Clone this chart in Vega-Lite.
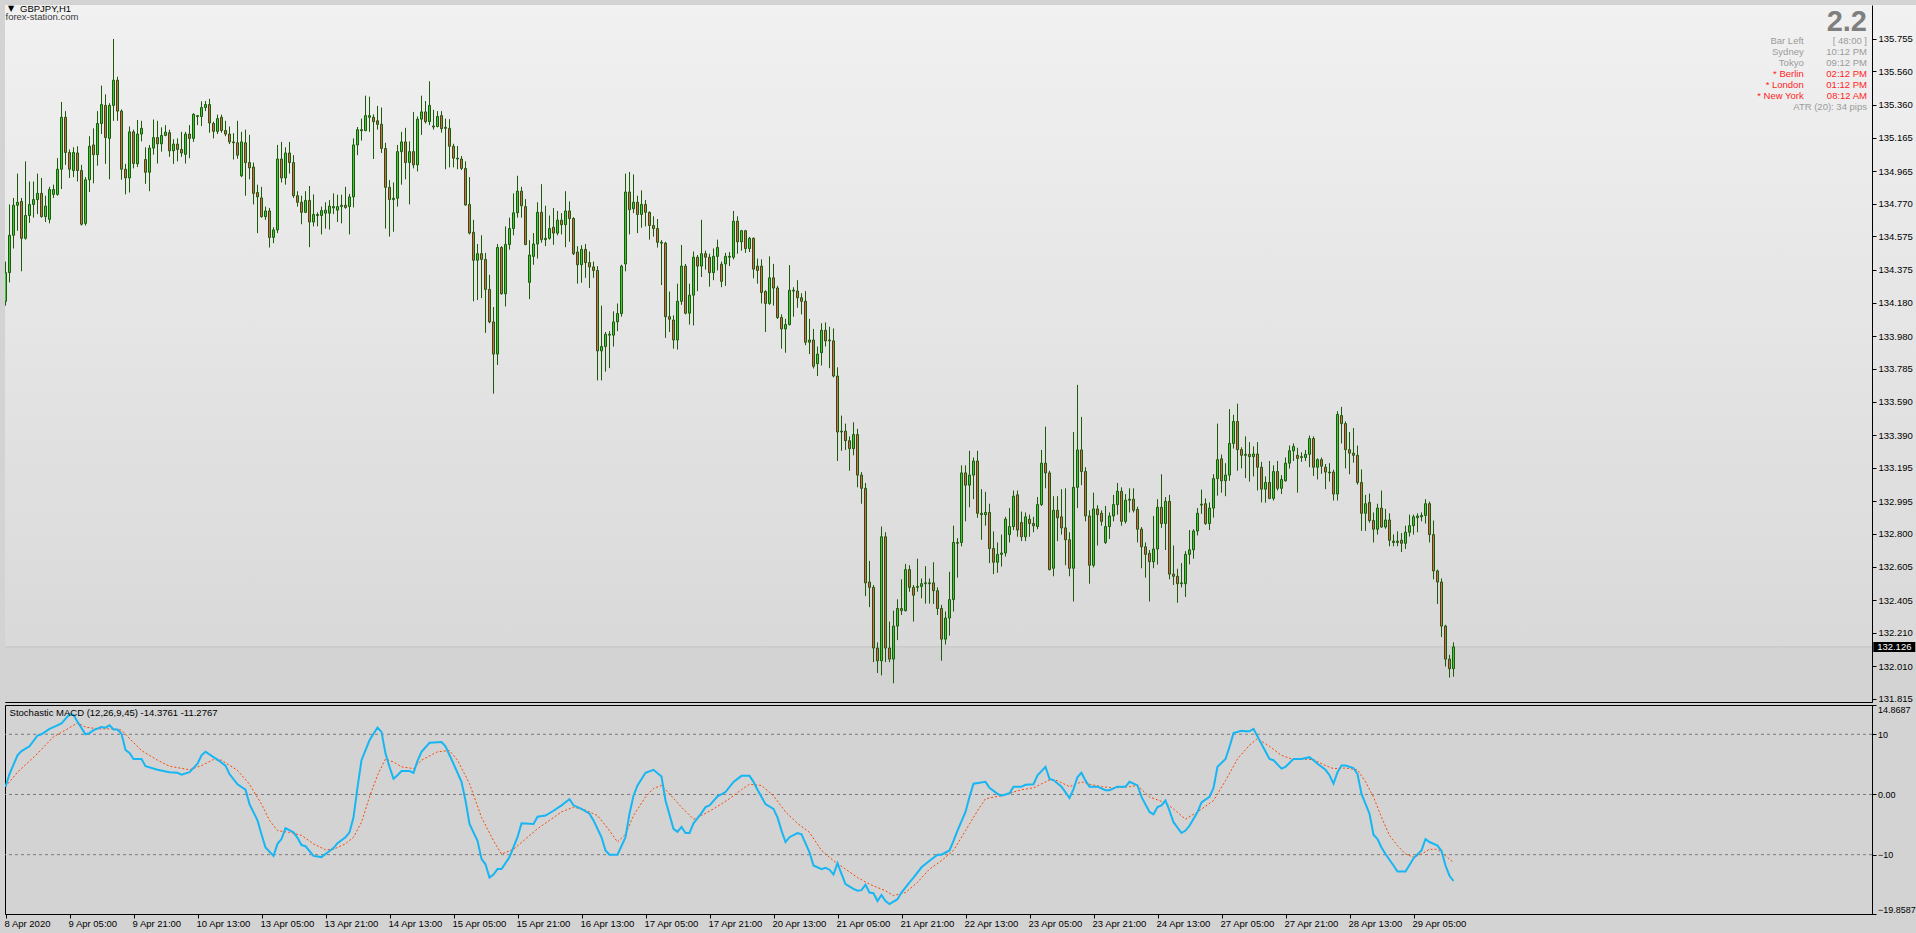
{
"$schema":"https://vega.github.io/schema/vega-lite/v6.json",
"background":"#d3d3d3",
"padding":{"left":3,"top":3,"right":1,"bottom":4},
"spacing":3,
"bounds":"flush",
"config":{"font":"Liberation Sans","view":{"stroke":"#000000","strokeWidth":1},
"scale":{"continuousPadding":0},
"axis":{"zindex":1,"grid":false,"domainColor":"#000000","tickColor":"#000000","labelColor":"#000000","labelFontSize":9.5,"labelFont":"Liberation Sans","tickSize":4,"labelPadding":2,"labelOverlap":false}},
"datasets":{
"candles":[
{"i":0,"o":134.188,"h":134.425,"l":134.162,"c":134.359},
{"i":1,"o":134.359,"h":134.766,"l":134.301,"c":134.582},
{"i":2,"o":134.582,"h":134.805,"l":134.503,"c":134.761},
{"i":3,"o":134.761,"h":134.950,"l":134.609,"c":134.779},
{"i":4,"o":134.784,"h":134.805,"l":134.367,"c":134.564},
{"i":5,"o":134.564,"h":135.023,"l":134.556,"c":134.700},
{"i":6,"o":134.700,"h":134.903,"l":134.656,"c":134.766},
{"i":7,"o":134.766,"h":134.903,"l":134.687,"c":134.795},
{"i":8,"o":134.795,"h":134.950,"l":134.708,"c":134.832},
{"i":9,"o":134.832,"h":134.924,"l":134.687,"c":134.693},
{"i":10,"o":134.693,"h":134.818,"l":134.661,"c":134.756},
{"i":11,"o":134.677,"h":134.871,"l":134.653,"c":134.855},
{"i":12,"o":134.826,"h":134.884,"l":134.805,"c":134.855},
{"i":13,"o":134.826,"h":135.042,"l":134.818,"c":134.976},
{"i":14,"o":134.976,"h":135.378,"l":134.858,"c":135.286},
{"i":15,"o":135.286,"h":135.323,"l":135.002,"c":135.076},
{"i":16,"o":135.076,"h":135.094,"l":134.924,"c":134.976},
{"i":17,"o":134.968,"h":135.107,"l":134.929,"c":135.076},
{"i":18,"o":135.073,"h":135.113,"l":134.903,"c":134.968},
{"i":19,"o":134.968,"h":135.002,"l":134.640,"c":134.648},
{"i":20,"o":134.653,"h":134.929,"l":134.640,"c":134.913},
{"i":21,"o":134.913,"h":135.173,"l":134.840,"c":135.113},
{"i":22,"o":135.121,"h":135.220,"l":134.892,"c":135.063},
{"i":23,"o":135.063,"h":135.323,"l":134.997,"c":135.249},
{"i":24,"o":135.249,"h":135.475,"l":135.186,"c":135.362},
{"i":25,"o":135.357,"h":135.423,"l":135.008,"c":135.165},
{"i":26,"o":135.160,"h":135.370,"l":134.916,"c":135.357},
{"i":27,"o":135.357,"h":135.753,"l":135.265,"c":135.507},
{"i":28,"o":135.507,"h":135.528,"l":135.265,"c":135.323},
{"i":29,"o":135.323,"h":135.333,"l":134.913,"c":134.976},
{"i":30,"o":134.976,"h":135.008,"l":134.826,"c":134.924},
{"i":31,"o":134.924,"h":135.231,"l":134.837,"c":135.199},
{"i":32,"o":135.199,"h":135.212,"l":134.981,"c":135.010},
{"i":33,"o":135.008,"h":135.270,"l":134.989,"c":135.186},
{"i":34,"o":135.186,"h":135.265,"l":135.142,"c":135.220},
{"i":35,"o":135.034,"h":135.107,"l":134.889,"c":134.958},
{"i":36,"o":134.958,"h":135.121,"l":134.845,"c":135.102},
{"i":37,"o":135.102,"h":135.273,"l":135.063,"c":135.165},
{"i":38,"o":135.165,"h":135.265,"l":135.010,"c":135.128},
{"i":39,"o":135.128,"h":135.226,"l":135.081,"c":135.178},
{"i":40,"o":135.178,"h":135.239,"l":135.173,"c":135.197},
{"i":41,"o":135.194,"h":135.212,"l":135.050,"c":135.086},
{"i":42,"o":135.086,"h":135.155,"l":135.008,"c":135.126},
{"i":43,"o":135.126,"h":135.160,"l":135.023,"c":135.094},
{"i":44,"o":135.094,"h":135.199,"l":135.050,"c":135.073},
{"i":45,"o":135.065,"h":135.199,"l":135.010,"c":135.186},
{"i":46,"o":135.186,"h":135.239,"l":135.042,"c":135.160},
{"i":47,"o":135.160,"h":135.310,"l":135.139,"c":135.304},
{"i":48,"o":135.291,"h":135.296,"l":135.239,"c":135.296},
{"i":49,"o":135.291,"h":135.381,"l":135.233,"c":135.344},
{"i":50,"o":135.344,"h":135.383,"l":135.323,"c":135.362},
{"i":51,"o":135.362,"h":135.396,"l":135.194,"c":135.252},
{"i":52,"o":135.249,"h":135.260,"l":135.160,"c":135.202},
{"i":53,"o":135.202,"h":135.302,"l":135.186,"c":135.278},
{"i":54,"o":135.286,"h":135.302,"l":135.194,"c":135.207},
{"i":55,"o":135.207,"h":135.265,"l":135.173,"c":135.186},
{"i":56,"o":135.186,"h":135.231,"l":135.126,"c":135.139},
{"i":57,"o":135.139,"h":135.191,"l":135.034,"c":135.134},
{"i":58,"o":135.134,"h":135.265,"l":135.039,"c":135.060},
{"i":59,"o":134.937,"h":135.199,"l":134.929,"c":135.139},
{"i":60,"o":135.134,"h":135.212,"l":134.818,"c":135.016},
{"i":61,"o":135.016,"h":135.181,"l":134.916,"c":134.984},
{"i":62,"o":134.989,"h":135.016,"l":134.766,"c":134.832},
{"i":63,"o":134.837,"h":134.884,"l":134.595,"c":134.811},
{"i":64,"o":134.805,"h":134.871,"l":134.687,"c":134.693},
{"i":65,"o":134.693,"h":134.753,"l":134.674,"c":134.727},
{"i":66,"o":134.727,"h":134.745,"l":134.509,"c":134.569},
{"i":67,"o":134.569,"h":134.630,"l":134.535,"c":134.614},
{"i":68,"o":134.614,"h":135.121,"l":134.595,"c":135.037},
{"i":69,"o":135.037,"h":135.139,"l":134.897,"c":134.924},
{"i":70,"o":134.924,"h":135.107,"l":134.884,"c":135.073},
{"i":71,"o":135.073,"h":135.139,"l":134.950,"c":135.016},
{"i":72,"o":135.016,"h":135.060,"l":134.805,"c":134.818},
{"i":73,"o":134.818,"h":134.845,"l":134.753,"c":134.779},
{"i":74,"o":134.779,"h":134.818,"l":134.648,"c":134.719},
{"i":75,"o":134.719,"h":134.845,"l":134.714,"c":134.790},
{"i":76,"o":134.790,"h":134.876,"l":134.511,"c":134.661},
{"i":77,"o":134.661,"h":134.826,"l":134.635,"c":134.706},
{"i":78,"o":134.706,"h":134.719,"l":134.635,"c":134.700},
{"i":79,"o":134.700,"h":134.753,"l":134.587,"c":134.729},
{"i":80,"o":134.714,"h":134.779,"l":134.622,"c":134.732},
{"i":81,"o":134.714,"h":134.792,"l":134.616,"c":134.756},
{"i":82,"o":134.745,"h":134.832,"l":134.708,"c":134.753},
{"i":83,"o":134.732,"h":134.824,"l":134.661,"c":134.753},
{"i":84,"o":134.753,"h":134.824,"l":134.653,"c":134.761},
{"i":85,"o":134.761,"h":134.871,"l":134.740,"c":134.748},
{"i":86,"o":134.753,"h":134.829,"l":134.587,"c":134.811},
{"i":87,"o":134.811,"h":135.160,"l":134.748,"c":135.121},
{"i":88,"o":135.121,"h":135.228,"l":135.060,"c":135.212},
{"i":89,"o":135.212,"h":135.278,"l":135.147,"c":135.206},
{"i":90,"o":135.206,"h":135.415,"l":135.204,"c":135.296},
{"i":91,"o":135.286,"h":135.409,"l":135.199,"c":135.296},
{"i":92,"o":135.286,"h":135.304,"l":135.037,"c":135.260},
{"i":93,"o":135.265,"h":135.354,"l":135.212,"c":135.244},
{"i":94,"o":135.244,"h":135.344,"l":135.073,"c":135.100},
{"i":95,"o":135.100,"h":135.134,"l":134.622,"c":134.868},
{"i":96,"o":134.868,"h":134.911,"l":134.574,"c":134.795},
{"i":97,"o":134.795,"h":134.897,"l":134.603,"c":134.803},
{"i":98,"o":134.803,"h":135.121,"l":134.753,"c":135.081},
{"i":99,"o":135.081,"h":135.199,"l":134.884,"c":135.139},
{"i":100,"o":135.139,"h":135.223,"l":134.916,"c":135.016},
{"i":101,"o":135.016,"h":135.142,"l":134.766,"c":135.081},
{"i":102,"o":135.081,"h":135.318,"l":134.981,"c":135.002},
{"i":103,"o":135.002,"h":135.291,"l":134.963,"c":135.275},
{"i":104,"o":135.275,"h":135.415,"l":135.181,"c":135.318},
{"i":105,"o":135.318,"h":135.383,"l":135.249,"c":135.260},
{"i":106,"o":135.260,"h":135.501,"l":135.239,"c":135.357},
{"i":107,"o":135.234,"h":135.331,"l":135.212,"c":135.228},
{"i":108,"o":135.231,"h":135.323,"l":135.226,"c":135.291},
{"i":109,"o":135.296,"h":135.323,"l":135.194,"c":135.218},
{"i":110,"o":135.226,"h":135.278,"l":134.976,"c":135.220},
{"i":111,"o":135.220,"h":135.275,"l":134.987,"c":135.113},
{"i":112,"o":135.113,"h":135.128,"l":134.987,"c":135.042},
{"i":113,"o":135.042,"h":135.115,"l":134.976,"c":135.037},
{"i":114,"o":135.037,"h":135.055,"l":134.971,"c":134.981},
{"i":115,"o":134.981,"h":135.023,"l":134.758,"c":134.763},
{"i":116,"o":134.766,"h":134.929,"l":134.587,"c":134.595},
{"i":117,"o":134.600,"h":134.674,"l":134.188,"c":134.433},
{"i":118,"o":134.433,"h":134.530,"l":134.196,"c":134.472},
{"i":119,"o":134.472,"h":134.582,"l":134.207,"c":134.438},
{"i":120,"o":134.438,"h":134.477,"l":134.000,"c":134.259},
{"i":121,"o":134.259,"h":134.346,"l":134.057,"c":134.065},
{"i":122,"o":134.065,"h":134.154,"l":133.637,"c":133.873},
{"i":123,"o":133.873,"h":134.530,"l":133.808,"c":134.509},
{"i":124,"o":134.509,"h":134.517,"l":134.228,"c":134.233},
{"i":125,"o":134.233,"h":134.635,"l":134.157,"c":134.527},
{"i":126,"o":134.527,"h":134.687,"l":134.496,"c":134.622},
{"i":127,"o":134.622,"h":134.832,"l":134.582,"c":134.716},
{"i":128,"o":134.716,"h":134.937,"l":134.687,"c":134.845},
{"i":129,"o":134.845,"h":134.871,"l":134.687,"c":134.758},
{"i":130,"o":134.753,"h":134.798,"l":134.522,"c":134.527},
{"i":131,"o":134.301,"h":134.553,"l":134.201,"c":134.464},
{"i":132,"o":134.456,"h":134.595,"l":134.406,"c":134.530},
{"i":133,"o":134.530,"h":134.779,"l":134.443,"c":134.719},
{"i":134,"o":134.719,"h":134.887,"l":134.538,"c":134.556},
{"i":135,"o":134.556,"h":134.758,"l":134.517,"c":134.564},
{"i":136,"o":134.564,"h":134.700,"l":134.556,"c":134.622},
{"i":137,"o":134.630,"h":134.745,"l":134.525,"c":134.595},
{"i":138,"o":134.595,"h":134.727,"l":134.582,"c":134.672},
{"i":139,"o":134.672,"h":134.714,"l":134.587,"c":134.645},
{"i":140,"o":134.645,"h":134.845,"l":134.511,"c":134.727},
{"i":141,"o":134.727,"h":134.784,"l":134.543,"c":134.682},
{"i":142,"o":134.682,"h":134.690,"l":134.464,"c":134.472},
{"i":143,"o":134.482,"h":134.517,"l":134.293,"c":134.406},
{"i":144,"o":134.406,"h":134.522,"l":134.299,"c":134.498},
{"i":145,"o":134.498,"h":134.530,"l":134.328,"c":134.419},
{"i":146,"o":134.419,"h":134.485,"l":134.267,"c":134.393},
{"i":147,"o":134.393,"h":134.425,"l":134.328,"c":134.372},
{"i":148,"o":134.372,"h":134.398,"l":133.716,"c":133.892},
{"i":149,"o":133.892,"h":134.162,"l":133.716,"c":133.918},
{"i":150,"o":133.918,"h":134.005,"l":133.768,"c":133.991},
{"i":151,"o":133.986,"h":134.010,"l":133.789,"c":133.991},
{"i":152,"o":133.986,"h":134.128,"l":133.918,"c":134.065},
{"i":153,"o":134.065,"h":134.175,"l":134.010,"c":134.115},
{"i":154,"o":134.115,"h":134.406,"l":134.096,"c":134.398},
{"i":155,"o":134.411,"h":134.950,"l":134.367,"c":134.840},
{"i":156,"o":134.840,"h":134.960,"l":134.587,"c":134.735},
{"i":157,"o":134.740,"h":134.945,"l":134.714,"c":134.779},
{"i":158,"o":134.779,"h":134.818,"l":134.595,"c":134.706},
{"i":159,"o":134.706,"h":134.850,"l":134.627,"c":134.766},
{"i":160,"o":134.766,"h":134.792,"l":134.635,"c":134.719},
{"i":161,"o":134.719,"h":134.724,"l":134.556,"c":134.640},
{"i":162,"o":134.640,"h":134.695,"l":134.574,"c":134.622},
{"i":163,"o":134.622,"h":134.679,"l":134.509,"c":134.540},
{"i":164,"o":134.540,"h":134.553,"l":134.285,"c":134.535},
{"i":165,"o":134.535,"h":134.543,"l":133.970,"c":134.096},
{"i":166,"o":134.096,"h":134.246,"l":134.005,"c":134.081},
{"i":167,"o":134.076,"h":134.104,"l":133.905,"c":133.957},
{"i":168,"o":133.957,"h":134.293,"l":133.900,"c":134.188},
{"i":169,"o":134.188,"h":134.524,"l":134.167,"c":134.398},
{"i":170,"o":134.398,"h":134.411,"l":134.110,"c":134.117},
{"i":171,"o":134.117,"h":134.293,"l":134.049,"c":134.225},
{"i":172,"o":134.225,"h":134.485,"l":134.044,"c":134.451},
{"i":173,"o":134.451,"h":134.464,"l":134.249,"c":134.398},
{"i":174,"o":134.398,"h":134.674,"l":134.333,"c":134.472},
{"i":175,"o":134.472,"h":134.490,"l":134.377,"c":134.451},
{"i":176,"o":134.451,"h":134.472,"l":134.275,"c":134.359},
{"i":177,"o":134.359,"h":134.503,"l":134.314,"c":134.456},
{"i":178,"o":134.456,"h":134.556,"l":134.372,"c":134.509},
{"i":179,"o":134.409,"h":134.425,"l":134.272,"c":134.307},
{"i":180,"o":134.411,"h":134.477,"l":134.280,"c":134.456},
{"i":181,"o":134.451,"h":134.482,"l":134.398,"c":134.456},
{"i":182,"o":134.451,"h":134.727,"l":134.438,"c":134.666},
{"i":183,"o":134.666,"h":134.695,"l":134.472,"c":134.543},
{"i":184,"o":134.543,"h":134.614,"l":134.490,"c":134.609},
{"i":185,"o":134.609,"h":134.614,"l":134.477,"c":134.503},
{"i":186,"o":134.503,"h":134.572,"l":134.482,"c":134.564},
{"i":187,"o":134.564,"h":134.569,"l":134.325,"c":134.380},
{"i":188,"o":134.398,"h":134.443,"l":134.293,"c":134.372},
{"i":189,"o":134.398,"h":134.438,"l":134.175,"c":134.241},
{"i":190,"o":134.246,"h":134.254,"l":134.005,"c":134.175},
{"i":191,"o":134.175,"h":134.456,"l":134.167,"c":134.328},
{"i":192,"o":134.328,"h":134.411,"l":134.162,"c":134.267},
{"i":193,"o":134.267,"h":134.280,"l":134.083,"c":134.091},
{"i":194,"o":134.091,"h":134.110,"l":133.905,"c":134.023},
{"i":195,"o":134.023,"h":134.083,"l":133.881,"c":134.049},
{"i":196,"o":134.049,"h":134.404,"l":134.044,"c":134.254},
{"i":197,"o":134.254,"h":134.272,"l":134.096,"c":134.249},
{"i":198,"o":134.249,"h":134.314,"l":134.149,"c":134.209},
{"i":199,"o":134.209,"h":134.236,"l":134.110,"c":134.188},
{"i":200,"o":134.188,"h":134.249,"l":133.926,"c":133.944},
{"i":201,"o":133.944,"h":134.083,"l":133.873,"c":133.957},
{"i":202,"o":133.957,"h":134.023,"l":133.787,"c":133.800},
{"i":203,"o":133.816,"h":133.918,"l":133.742,"c":133.873},
{"i":204,"o":133.881,"h":134.057,"l":133.805,"c":134.015},
{"i":205,"o":134.015,"h":134.062,"l":133.918,"c":133.952},
{"i":206,"o":133.957,"h":134.036,"l":133.789,"c":133.952},
{"i":207,"o":133.952,"h":134.026,"l":133.734,"c":133.742},
{"i":208,"o":133.742,"h":133.794,"l":133.235,"c":133.408},
{"i":209,"o":133.408,"h":133.506,"l":133.296,"c":133.413},
{"i":210,"o":133.413,"h":133.458,"l":133.301,"c":133.356},
{"i":211,"o":133.356,"h":133.382,"l":133.177,"c":133.309},
{"i":212,"o":133.309,"h":133.466,"l":133.269,"c":133.393},
{"i":213,"o":133.393,"h":133.427,"l":133.078,"c":133.151},
{"i":214,"o":133.151,"h":133.169,"l":132.980,"c":133.072},
{"i":215,"o":133.072,"h":133.104,"l":132.429,"c":132.508},
{"i":216,"o":132.513,"h":132.639,"l":132.363,"c":132.481},
{"i":217,"o":132.481,"h":132.495,"l":132.035,"c":132.119},
{"i":218,"o":132.119,"h":132.153,"l":131.970,"c":132.043},
{"i":219,"o":132.043,"h":132.844,"l":131.956,"c":132.783},
{"i":220,"o":132.783,"h":132.810,"l":132.035,"c":132.119},
{"i":221,"o":132.119,"h":132.277,"l":132.035,"c":132.053},
{"i":222,"o":132.053,"h":132.342,"l":131.909,"c":132.250},
{"i":223,"o":132.250,"h":132.410,"l":132.166,"c":132.355},
{"i":224,"o":132.355,"h":132.529,"l":132.316,"c":132.342},
{"i":225,"o":132.342,"h":132.621,"l":132.337,"c":132.587},
{"i":226,"o":132.587,"h":132.613,"l":132.455,"c":132.481},
{"i":227,"o":132.481,"h":132.495,"l":132.277,"c":132.434},
{"i":228,"o":132.481,"h":132.652,"l":132.455,"c":132.487},
{"i":229,"o":132.487,"h":132.534,"l":132.416,"c":132.503},
{"i":230,"o":132.503,"h":132.608,"l":132.384,"c":132.508},
{"i":231,"o":132.508,"h":132.534,"l":132.384,"c":132.503},
{"i":232,"o":132.508,"h":132.631,"l":132.382,"c":132.461},
{"i":233,"o":132.461,"h":132.481,"l":132.316,"c":132.355},
{"i":234,"o":132.355,"h":132.376,"l":132.043,"c":132.172},
{"i":235,"o":132.172,"h":132.337,"l":132.140,"c":132.298},
{"i":236,"o":132.298,"h":132.574,"l":132.193,"c":132.408},
{"i":237,"o":132.408,"h":132.849,"l":132.337,"c":132.749},
{"i":238,"o":132.749,"h":132.775,"l":132.539,"c":132.744},
{"i":239,"o":132.749,"h":133.209,"l":132.726,"c":133.164},
{"i":240,"o":133.164,"h":133.209,"l":132.875,"c":133.091},
{"i":241,"o":133.091,"h":133.296,"l":132.959,"c":133.151},
{"i":242,"o":133.151,"h":133.256,"l":133.007,"c":133.235},
{"i":243,"o":133.235,"h":133.296,"l":132.896,"c":132.923},
{"i":244,"o":132.923,"h":133.067,"l":132.765,"c":132.915},
{"i":245,"o":132.915,"h":133.051,"l":132.849,"c":132.928},
{"i":246,"o":132.928,"h":132.980,"l":132.626,"c":132.713},
{"i":247,"o":132.713,"h":132.815,"l":132.560,"c":132.631},
{"i":248,"o":132.631,"h":132.749,"l":132.568,"c":132.678},
{"i":249,"o":132.678,"h":132.796,"l":132.605,"c":132.686},
{"i":250,"o":132.686,"h":132.902,"l":132.665,"c":132.888},
{"i":251,"o":132.796,"h":132.954,"l":132.749,"c":132.844},
{"i":252,"o":132.844,"h":133.059,"l":132.823,"c":133.025},
{"i":253,"o":133.033,"h":133.059,"l":132.783,"c":132.823},
{"i":254,"o":132.868,"h":132.933,"l":132.757,"c":132.783},
{"i":255,"o":132.783,"h":132.928,"l":132.757,"c":132.902},
{"i":256,"o":132.888,"h":132.915,"l":132.783,"c":132.862},
{"i":257,"o":132.862,"h":132.902,"l":132.810,"c":132.849},
{"i":258,"o":132.844,"h":133.020,"l":132.828,"c":132.975},
{"i":259,"o":132.975,"h":133.301,"l":132.967,"c":133.222},
{"i":260,"o":133.222,"h":133.440,"l":133.072,"c":133.164},
{"i":261,"o":133.164,"h":133.177,"l":132.582,"c":132.587},
{"i":262,"o":132.595,"h":133.025,"l":132.547,"c":132.941},
{"i":263,"o":132.941,"h":133.025,"l":132.757,"c":132.896},
{"i":264,"o":132.902,"h":133.067,"l":132.796,"c":132.836},
{"i":265,"o":132.836,"h":133.072,"l":132.613,"c":132.765},
{"i":266,"o":132.765,"h":132.810,"l":132.547,"c":132.595},
{"i":267,"o":132.595,"h":133.408,"l":132.397,"c":133.078},
{"i":268,"o":133.078,"h":133.689,"l":132.954,"c":133.301},
{"i":269,"o":133.301,"h":133.498,"l":133.091,"c":133.172},
{"i":270,"o":133.172,"h":133.198,"l":132.875,"c":132.907},
{"i":271,"o":132.907,"h":132.941,"l":132.503,"c":132.613},
{"i":272,"o":132.613,"h":133.046,"l":132.600,"c":132.949},
{"i":273,"o":132.949,"h":132.971,"l":132.731,"c":132.915},
{"i":274,"o":132.923,"h":132.941,"l":132.849,"c":132.875},
{"i":275,"o":132.749,"h":132.967,"l":132.740,"c":132.844},
{"i":276,"o":132.844,"h":132.928,"l":132.770,"c":132.907},
{"i":277,"o":132.907,"h":133.033,"l":132.875,"c":132.975},
{"i":278,"o":132.975,"h":133.104,"l":132.915,"c":133.054},
{"i":279,"o":133.054,"h":133.078,"l":132.849,"c":132.875},
{"i":280,"o":132.875,"h":133.038,"l":132.862,"c":133.001},
{"i":281,"o":133.001,"h":133.072,"l":132.928,"c":133.007},
{"i":282,"o":133.007,"h":133.072,"l":132.928,"c":132.941},
{"i":283,"o":132.946,"h":132.962,"l":132.749,"c":132.828},
{"i":284,"o":132.828,"h":132.841,"l":132.595,"c":132.723},
{"i":285,"o":132.723,"h":132.749,"l":132.539,"c":132.678},
{"i":286,"o":132.684,"h":132.704,"l":132.397,"c":132.634},
{"i":287,"o":132.634,"h":132.907,"l":132.595,"c":132.710},
{"i":288,"o":132.710,"h":133.007,"l":132.617,"c":132.959},
{"i":289,"o":132.959,"h":133.156,"l":132.836,"c":132.862},
{"i":290,"o":132.862,"h":133.020,"l":132.704,"c":132.994},
{"i":291,"o":132.994,"h":133.033,"l":132.529,"c":132.560},
{"i":292,"o":132.560,"h":132.731,"l":132.495,"c":132.547},
{"i":293,"o":132.547,"h":132.592,"l":132.389,"c":132.503},
{"i":294,"o":132.503,"h":132.626,"l":132.481,"c":132.508},
{"i":295,"o":132.503,"h":132.697,"l":132.424,"c":132.678},
{"i":296,"o":132.678,"h":132.823,"l":132.618,"c":132.705},
{"i":297,"o":132.705,"h":132.828,"l":132.652,"c":132.817},
{"i":298,"o":132.817,"h":132.954,"l":132.791,"c":132.923},
{"i":299,"o":132.972,"h":133.064,"l":132.920,"c":132.977},
{"i":300,"o":132.980,"h":133.012,"l":132.854,"c":132.862},
{"i":301,"o":132.862,"h":132.988,"l":132.823,"c":132.954},
{"i":302,"o":132.954,"h":133.156,"l":132.897,"c":133.130},
{"i":303,"o":133.130,"h":133.458,"l":133.028,"c":133.243},
{"i":304,"o":133.248,"h":133.274,"l":133.046,"c":133.117},
{"i":305,"o":133.117,"h":133.222,"l":133.025,"c":133.151},
{"i":306,"o":133.151,"h":133.545,"l":133.117,"c":133.340},
{"i":307,"o":133.340,"h":133.511,"l":133.309,"c":133.471},
{"i":308,"o":133.471,"h":133.577,"l":133.177,"c":133.303},
{"i":309,"o":133.303,"h":133.317,"l":133.191,"c":133.269},
{"i":310,"o":133.269,"h":133.382,"l":133.133,"c":133.275},
{"i":311,"o":133.275,"h":133.348,"l":133.112,"c":133.261},
{"i":312,"o":133.261,"h":133.322,"l":133.143,"c":133.277},
{"i":313,"o":133.277,"h":133.348,"l":133.059,"c":133.198},
{"i":314,"o":133.198,"h":133.230,"l":132.988,"c":133.067},
{"i":315,"o":133.067,"h":133.143,"l":132.986,"c":133.107},
{"i":316,"o":133.107,"h":133.235,"l":133.007,"c":133.012},
{"i":317,"o":133.012,"h":133.209,"l":132.999,"c":133.172},
{"i":318,"o":133.172,"h":133.235,"l":133.059,"c":133.072},
{"i":319,"o":133.072,"h":133.151,"l":133.038,"c":133.125},
{"i":320,"o":133.117,"h":133.256,"l":133.112,"c":133.222},
{"i":321,"o":133.222,"h":133.327,"l":133.190,"c":133.296},
{"i":322,"o":133.296,"h":133.340,"l":133.235,"c":133.322},
{"i":323,"o":133.269,"h":133.314,"l":133.046,"c":133.251},
{"i":324,"o":133.261,"h":133.287,"l":133.230,"c":133.256},
{"i":325,"o":133.256,"h":133.301,"l":133.235,"c":133.275},
{"i":326,"o":133.275,"h":133.387,"l":133.198,"c":133.369},
{"i":327,"o":133.369,"h":133.382,"l":133.146,"c":133.198},
{"i":328,"o":133.198,"h":133.251,"l":133.125,"c":133.243},
{"i":329,"o":133.243,"h":133.256,"l":133.159,"c":133.204},
{"i":330,"o":133.198,"h":133.217,"l":133.067,"c":133.169},
{"i":331,"o":133.169,"h":133.222,"l":133.112,"c":133.164},
{"i":332,"o":133.169,"h":133.183,"l":132.999,"c":133.038},
{"i":333,"o":133.038,"h":133.532,"l":132.999,"c":133.513},
{"i":334,"o":133.506,"h":133.558,"l":133.340,"c":133.458},
{"i":335,"o":133.458,"h":133.471,"l":133.191,"c":133.303},
{"i":336,"o":133.303,"h":133.408,"l":133.156,"c":133.282},
{"i":337,"o":133.282,"h":133.432,"l":133.225,"c":133.269},
{"i":338,"o":133.269,"h":133.327,"l":133.094,"c":133.107},
{"i":339,"o":133.107,"h":133.185,"l":132.818,"c":132.923},
{"i":340,"o":132.923,"h":133.033,"l":132.818,"c":132.980},
{"i":341,"o":132.988,"h":133.041,"l":132.867,"c":132.880},
{"i":342,"o":132.880,"h":132.928,"l":132.749,"c":132.828},
{"i":343,"o":132.828,"h":132.980,"l":132.796,"c":132.954},
{"i":344,"o":132.954,"h":133.059,"l":132.836,"c":132.841},
{"i":345,"o":132.841,"h":132.949,"l":132.831,"c":132.883},
{"i":346,"o":132.883,"h":132.923,"l":132.726,"c":132.762},
{"i":347,"o":132.757,"h":132.797,"l":132.726,"c":132.749},
{"i":348,"o":132.749,"h":132.815,"l":132.726,"c":132.757},
{"i":349,"o":132.762,"h":132.805,"l":132.692,"c":132.744},
{"i":350,"o":132.744,"h":132.849,"l":132.710,"c":132.810},
{"i":351,"o":132.810,"h":132.915,"l":132.784,"c":132.849},
{"i":352,"o":132.849,"h":132.915,"l":132.796,"c":132.902},
{"i":353,"o":132.897,"h":132.923,"l":132.810,"c":132.907},
{"i":354,"o":132.902,"h":132.928,"l":132.875,"c":132.910},
{"i":355,"o":132.910,"h":133.007,"l":132.862,"c":132.980},
{"i":356,"o":132.980,"h":132.993,"l":132.749,"c":132.796},
{"i":357,"o":132.796,"h":132.880,"l":132.529,"c":132.579},
{"i":358,"o":132.579,"h":132.587,"l":132.382,"c":132.513},
{"i":359,"o":132.513,"h":132.534,"l":132.185,"c":132.250},
{"i":360,"o":132.250,"h":132.258,"l":132.009,"c":132.053},
{"i":361,"o":132.053,"h":132.079,"l":131.943,"c":131.996},
{"i":362,"o":131.996,"h":132.153,"l":131.948,"c":132.126}
],
"macd":[
{"i":0,"v":1.3},{"i":1,"v":3.4},{"i":3,"v":6.5},{"i":4,"v":7.2},{"i":6,"v":8.0},{"i":8,"v":9.8},{"i":9,"v":10.0},{"i":11,"v":10.9},{"i":12,"v":11.2},{"i":14,"v":11.8},{"i":16,"v":13.3},{"i":17,"v":13.2},{"i":18,"v":12.1},{"i":20,"v":10.0},{"i":21,"v":10.2},{"i":22,"v":10.7},{"i":24,"v":11.2},{"i":25,"v":11.1},{"i":26,"v":11.5},{"i":27,"v":10.8},{"i":28,"v":10.8},{"i":29,"v":10.1},{"i":30,"v":7.4},{"i":31,"v":6.9},{"i":32,"v":5.9},{"i":34,"v":5.9},{"i":35,"v":4.7},{"i":38,"v":4.1},{"i":41,"v":3.7},{"i":43,"v":3.6},{"i":44,"v":3.3},{"i":46,"v":3.7},{"i":48,"v":5.1},{"i":49,"v":6.5},{"i":50,"v":7.1},{"i":52,"v":6.2},{"i":53,"v":5.8},{"i":55,"v":4.8},{"i":56,"v":3.4},{"i":58,"v":1.7},{"i":60,"v":0.8},{"i":61,"v":-1.6},{"i":63,"v":-4.3},{"i":64,"v":-6.6},{"i":65,"v":-8.8},{"i":67,"v":-10.2},{"i":68,"v":-8.2},{"i":69,"v":-7.4},{"i":70,"v":-5.6},{"i":72,"v":-6.3},{"i":73,"v":-7.2},{"i":74,"v":-8.4},{"i":75,"v":-8.6},{"i":77,"v":-10.2},{"i":79,"v":-10.4},{"i":80,"v":-9.9},{"i":82,"v":-8.9},{"i":83,"v":-8.1},{"i":85,"v":-7.1},{"i":86,"v":-6.3},{"i":87,"v":-3.8},{"i":88,"v":1.2},{"i":89,"v":5.7},{"i":91,"v":9.0},{"i":92,"v":10.1},{"i":93,"v":11.1},{"i":94,"v":10.4},{"i":95,"v":6.8},{"i":96,"v":4.6},{"i":97,"v":2.6},{"i":98,"v":3.2},{"i":99,"v":3.9},{"i":101,"v":3.9},{"i":102,"v":3.6},{"i":103,"v":5.6},{"i":104,"v":7.1},{"i":106,"v":8.6},{"i":109,"v":8.7},{"i":110,"v":8.0},{"i":112,"v":5.1},{"i":114,"v":2.1},{"i":115,"v":-1.0},{"i":116,"v":-4.9},{"i":118,"v":-7.7},{"i":119,"v":-10.7},{"i":120,"v":-11.6},{"i":121,"v":-13.8},{"i":122,"v":-13.3},{"i":123,"v":-12.4},{"i":124,"v":-12.4},{"i":126,"v":-10.4},{"i":128,"v":-7.1},{"i":129,"v":-4.8},{"i":132,"v":-4.9},{"i":133,"v":-3.7},{"i":135,"v":-3.5},{"i":137,"v":-2.7},{"i":139,"v":-1.8},{"i":141,"v":-0.8},{"i":142,"v":-1.8},{"i":144,"v":-2.4},{"i":146,"v":-3.2},{"i":147,"v":-4.3},{"i":149,"v":-7.1},{"i":150,"v":-9.3},{"i":151,"v":-10.0},{"i":153,"v":-10.0},{"i":155,"v":-7.1},{"i":156,"v":-3.2},{"i":157,"v":-0.2},{"i":158,"v":1.5},{"i":160,"v":3.6},{"i":162,"v":4.1},{"i":164,"v":3.0},{"i":165,"v":-1.0},{"i":167,"v":-5.7},{"i":168,"v":-6.2},{"i":169,"v":-5.4},{"i":170,"v":-6.4},{"i":171,"v":-6.4},{"i":172,"v":-4.8},{"i":174,"v":-3.1},{"i":175,"v":-2.1},{"i":176,"v":-1.8},{"i":178,"v":-0.3},{"i":180,"v":0.4},{"i":182,"v":2.1},{"i":184,"v":3.1},{"i":186,"v":3.1},{"i":187,"v":2.1},{"i":188,"v":0.8},{"i":190,"v":-1.6},{"i":192,"v":-2.4},{"i":193,"v":-3.8},{"i":194,"v":-6.0},{"i":195,"v":-7.9},{"i":196,"v":-7.1},{"i":198,"v":-6.4},{"i":199,"v":-6.6},{"i":201,"v":-9.6},{"i":202,"v":-11.8},{"i":204,"v":-12.4},{"i":205,"v":-12.2},{"i":206,"v":-12.5},{"i":207,"v":-13.3},{"i":208,"v":-11.4},{"i":209,"v":-13.2},{"i":210,"v":-14.9},{"i":212,"v":-15.7},{"i":213,"v":-16.0},{"i":214,"v":-15.9},{"i":215,"v":-15.0},{"i":216,"v":-16.3},{"i":217,"v":-16.4},{"i":218,"v":-17.7},{"i":219,"v":-16.7},{"i":220,"v":-17.7},{"i":221,"v":-18.2},{"i":223,"v":-17.4},{"i":224,"v":-16.3},{"i":226,"v":-14.6},{"i":227,"v":-13.8},{"i":229,"v":-12.1},{"i":231,"v":-11.0},{"i":233,"v":-10.0},{"i":234,"v":-10.0},{"i":236,"v":-9.3},{"i":237,"v":-7.7},{"i":238,"v":-6.0},{"i":240,"v":-2.9},{"i":241,"v":-0.4},{"i":242,"v":1.8},{"i":245,"v":2.1},{"i":246,"v":1.1},{"i":248,"v":0.1},{"i":249,"v":-0.2},{"i":251,"v":0.2},{"i":252,"v":1.3},{"i":254,"v":1.3},{"i":255,"v":1.6},{"i":257,"v":1.7},{"i":258,"v":3.2},{"i":260,"v":4.6},{"i":261,"v":2.6},{"i":262,"v":2.4},{"i":264,"v":1.3},{"i":266,"v":-0.6},{"i":267,"v":0.9},{"i":268,"v":2.9},{"i":269,"v":3.6},{"i":270,"v":2.3},{"i":271,"v":1.3},{"i":273,"v":1.3},{"i":275,"v":0.7},{"i":276,"v":0.7},{"i":278,"v":1.3},{"i":280,"v":1.3},{"i":281,"v":2.1},{"i":283,"v":1.5},{"i":284,"v":-0.4},{"i":286,"v":-2.9},{"i":287,"v":-3.3},{"i":288,"v":-2.1},{"i":289,"v":-1.8},{"i":290,"v":-1.0},{"i":291,"v":-2.7},{"i":292,"v":-4.6},{"i":294,"v":-6.4},{"i":295,"v":-6.0},{"i":296,"v":-5.2},{"i":298,"v":-2.9},{"i":299,"v":-1.3},{"i":301,"v":-0.4},{"i":302,"v":1.1},{"i":303,"v":4.6},{"i":305,"v":5.9},{"i":306,"v":7.9},{"i":307,"v":10.2},{"i":309,"v":10.6},{"i":310,"v":10.5},{"i":311,"v":10.5},{"i":312,"v":10.9},{"i":314,"v":8.4},{"i":316,"v":5.9},{"i":317,"v":5.7},{"i":319,"v":4.3},{"i":320,"v":4.6},{"i":322,"v":5.9},{"i":324,"v":5.9},{"i":326,"v":6.2},{"i":327,"v":5.7},{"i":328,"v":5.1},{"i":330,"v":4.1},{"i":331,"v":3.2},{"i":332,"v":1.8},{"i":333,"v":3.7},{"i":334,"v":4.8},{"i":335,"v":4.8},{"i":337,"v":4.4},{"i":338,"v":3.4},{"i":339,"v":0.1},{"i":341,"v":-3.2},{"i":342,"v":-6.7},{"i":343,"v":-7.4},{"i":344,"v":-8.8},{"i":345,"v":-9.9},{"i":347,"v":-11.8},{"i":348,"v":-12.8},{"i":350,"v":-12.8},{"i":351,"v":-11.7},{"i":352,"v":-10.6},{"i":354,"v":-9.3},{"i":355,"v":-7.4},{"i":356,"v":-7.9},{"i":358,"v":-8.5},{"i":359,"v":-9.4},{"i":360,"v":-11.8},{"i":361,"v":-13.5},{"i":362,"v":-14.3761}
],
"signal":[
{"i":0,"v":1.3},{"i":3,"v":3.7},{"i":8,"v":6.8},{"i":12,"v":9.6},{"i":15,"v":10.7},{"i":18,"v":11.9},{"i":20,"v":11.2},{"i":23,"v":10.9},{"i":27,"v":10.9},{"i":29,"v":10.7},{"i":31,"v":9.3},{"i":34,"v":7.3},{"i":38,"v":5.7},{"i":41,"v":4.7},{"i":46,"v":4.1},{"i":49,"v":4.8},{"i":52,"v":5.8},{"i":54,"v":5.7},{"i":58,"v":4.0},{"i":61,"v":1.7},{"i":64,"v":-1.6},{"i":66,"v":-4.3},{"i":68,"v":-6.0},{"i":71,"v":-6.3},{"i":74,"v":-6.8},{"i":77,"v":-8.2},{"i":80,"v":-9.2},{"i":82,"v":-9.1},{"i":85,"v":-8.2},{"i":87,"v":-7.1},{"i":89,"v":-4.6},{"i":91,"v":-0.4},{"i":93,"v":3.2},{"i":95,"v":5.9},{"i":97,"v":5.4},{"i":99,"v":4.6},{"i":102,"v":4.3},{"i":104,"v":5.7},{"i":108,"v":7.1},{"i":111,"v":7.3},{"i":113,"v":5.7},{"i":116,"v":1.8},{"i":119,"v":-3.8},{"i":122,"v":-7.7},{"i":124,"v":-9.9},{"i":127,"v":-9.1},{"i":130,"v":-7.4},{"i":133,"v":-5.7},{"i":136,"v":-4.3},{"i":139,"v":-2.9},{"i":142,"v":-2.1},{"i":145,"v":-2.6},{"i":148,"v":-3.5},{"i":151,"v":-6.0},{"i":153,"v":-7.9},{"i":155,"v":-6.6},{"i":157,"v":-3.5},{"i":160,"v":-0.4},{"i":162,"v":1.0},{"i":164,"v":1.5},{"i":166,"v":0.1},{"i":169,"v":-2.1},{"i":172,"v":-4.1},{"i":174,"v":-3.5},{"i":177,"v":-2.4},{"i":181,"v":-0.7},{"i":184,"v":0.8},{"i":186,"v":1.7},{"i":189,"v":1.5},{"i":192,"v":-0.2},{"i":195,"v":-2.9},{"i":198,"v":-4.8},{"i":201,"v":-6.3},{"i":204,"v":-9.3},{"i":207,"v":-11.0},{"i":210,"v":-12.4},{"i":213,"v":-13.8},{"i":216,"v":-14.9},{"i":220,"v":-16.0},{"i":222,"v":-16.8},{"i":225,"v":-16.3},{"i":228,"v":-14.6},{"i":231,"v":-12.4},{"i":234,"v":-11.0},{"i":237,"v":-9.3},{"i":240,"v":-6.0},{"i":243,"v":-2.7},{"i":245,"v":-0.7},{"i":249,"v":-0.2},{"i":252,"v":0.4},{"i":254,"v":0.8},{"i":257,"v":1.1},{"i":261,"v":2.4},{"i":263,"v":2.3},{"i":266,"v":1.3},{"i":269,"v":2.1},{"i":271,"v":1.7},{"i":274,"v":1.3},{"i":277,"v":1.1},{"i":281,"v":1.3},{"i":283,"v":1.5},{"i":286,"v":-0.4},{"i":290,"v":-1.4},{"i":292,"v":-2.4},{"i":295,"v":-4.1},{"i":298,"v":-2.9},{"i":302,"v":-1.0},{"i":305,"v":2.3},{"i":308,"v":5.9},{"i":311,"v":8.2},{"i":313,"v":9.3},{"i":316,"v":8.0},{"i":319,"v":6.5},{"i":322,"v":5.8},{"i":324,"v":5.9},{"i":327,"v":5.8},{"i":330,"v":4.8},{"i":332,"v":4.3},{"i":335,"v":4.4},{"i":338,"v":4.1},{"i":340,"v":2.1},{"i":342,"v":-0.4},{"i":344,"v":-3.8},{"i":346,"v":-6.8},{"i":348,"v":-8.5},{"i":350,"v":-9.9},{"i":352,"v":-10.4},{"i":354,"v":-9.9},{"i":356,"v":-9.1},{"i":358,"v":-9.1},{"i":360,"v":-10.2},{"i":362,"v":-11.2767}
]
},
"vconcat":[
{
"width":1867,"height":697,
"layer":[
{"data":{"values":[{}]},
 "mark":{"type":"rect","color":{"gradient":"linear","x1":0,"y1":0,"x2":0,"y2":1,"stops":[{"offset":0,"color":"#f1f1f1"},{"offset":0.92,"color":"#d9d9d9"},{"offset":0.921,"color":"#d3d3d3"},{"offset":1,"color":"#d3d3d3"}]}},
 "encoding":{"x":{"datum":-0.125,"axis":null},"x2":{"datum":478.0},"y":{"datum":135.956},"y2":{"datum":131.797}}},
{"data":{"values":[{}]},
 "mark":{"type":"rule","color":"#c4c4c4","strokeWidth":1},
 "encoding":{"y":{"datum":132.126}}},
{"data":{"name":"candles"},
 "mark":{"type":"rule","color":"#1d5a0b","strokeWidth":1,"clip":true},
 "encoding":{
  "x":{"field":"i","type":"quantitative","scale":{"domain":[-0.125,466.625],"nice":false,"zero":false,"padding":0},"axis":null},
  "y":{"field":"l","type":"quantitative","scale":{"domain":[131.797,135.956],"nice":false,"zero":false,"padding":0},
       "axis":{"orient":"right","title":null,"zindex":2,"tickCount":40,"values":[135.755,135.560,135.360,135.165,134.965,134.770,134.575,134.375,134.180,133.980,133.785,133.590,133.390,133.195,132.995,132.800,132.605,132.405,132.210,132.010,131.815],"format":".3f","labelOverlap":false,"labelFlush":false,"labelBound":false}},
  "y2":{"field":"h"}}},
{"data":{"name":"candles"},
 "mark":{"type":"bar","width":2,"stroke":"#1d5a0b","strokeWidth":1,"clip":true},
 "encoding":{
  "x":{"field":"i","type":"quantitative","axis":null},
  "y":{"field":"o","type":"quantitative"},
  "y2":{"field":"c"},
  "fill":{"condition":{"test":"datum.c >= datum.o","value":"#3ec83a"},"value":"#e2614f"}}},
{"data":{"values":[{}]},
 "mark":{"type":"text","align":"left","baseline":"middle","fontSize":8,"font":"DejaVu Sans","color":"#000000"},
 "encoding":{"x":{"datum":0.625,"axis":null},"y":{"datum":135.931},"text":{"value":"▼"}}},
{"data":{"values":[{}]},
 "mark":{"type":"text","align":"left","baseline":"middle","fontSize":9.5,"color":"#000000"},
 "encoding":{"x":{"datum":3.625,"axis":null},"y":{"datum":135.930},"text":{"value":"GBPJPY,H1"}}},
{"data":{"values":[{}]},
 "mark":{"type":"text","align":"left","baseline":"middle","fontSize":9.5,"color":"#3a3a3a"},
 "encoding":{"x":{"datum":0.0,"axis":null},"y":{"datum":135.882},"text":{"value":"forex-station.com"}}},
{"data":{"values":[{}]},
 "mark":{"type":"text","align":"right","baseline":"middle","fontSize":29,"fontWeight":"bold","color":"#7f7f7f"},
 "encoding":{"x":{"datum":465.375,"axis":null},"y":{"datum":135.856},"text":{"value":"2.2"}}},
{"data":{"values":[{}]},
 "mark":{"type":"text","align":"right","baseline":"middle","fontSize":9.5,"lineHeight":11,"color":"#9b9b9b"},
 "encoding":{"x":{"datum":449.55,"axis":null},"y":{"datum":135.741},"text":{"value":["Bar Left","Sydney","Tokyo"]}}},
{"data":{"values":[{}]},
 "mark":{"type":"text","align":"right","baseline":"middle","fontSize":9.5,"lineHeight":11,"color":"#9b9b9b"},
 "encoding":{"x":{"datum":465.375,"axis":null},"y":{"datum":135.741},"text":{"value":["[ 48:00 ]","10:12 PM","09:12 PM"]}}},
{"data":{"values":[{}]},
 "mark":{"type":"text","align":"right","baseline":"middle","fontSize":9.5,"lineHeight":11,"color":"#ff2424"},
 "encoding":{"x":{"datum":449.55,"axis":null},"y":{"datum":135.546},"text":{"value":["* Berlin","* London","* New York"]}}},
{"data":{"values":[{}]},
 "mark":{"type":"text","align":"right","baseline":"middle","fontSize":9.5,"lineHeight":11,"color":"#ff2424"},
 "encoding":{"x":{"datum":465.375,"axis":null},"y":{"datum":135.546},"text":{"value":["02:12 PM","01:12 PM","08:12 AM"]}}},
{"data":{"values":[{}]},
 "mark":{"type":"text","align":"right","baseline":"middle","fontSize":9.5,"color":"#9b9b9b"},
 "encoding":{"x":{"datum":465.375,"axis":null},"y":{"datum":135.347},"text":{"value":"ATR (20): 34 pips"}}},
{"data":{"values":[{}]},
 "mark":{"type":"rect","color":"#000000"},
 "encoding":{"x":{"datum":466.95,"axis":null},"x2":{"datum":477.45},"y":{"datum":132.155},"y2":{"datum":132.095}}},
{"data":{"values":[{}]},
 "mark":{"type":"text","align":"center","baseline":"middle","fontSize":9.5,"color":"#ffffff"},
 "encoding":{"x":{"datum":472.2,"axis":null},"y":{"datum":132.126},"text":{"value":"132.126"}}}
]
},
{
"width":1867,"height":209,
"layer":[
{"data":{"values":[{"lv":10},{"lv":0},{"lv":-10}]},
 "mark":{"type":"rule","color":"#7a7a7a","strokeDash":[3,3],"strokeWidth":1},
 "encoding":{"y":{"field":"lv","type":"quantitative"}}},
{"data":{"name":"signal"},
 "mark":{"type":"line","color":"#ff4500","strokeWidth":1,"strokeDash":[2,2],"clip":true},
 "encoding":{"x":{"field":"i","type":"quantitative"},"y":{"field":"v","type":"quantitative"}}},
{"data":{"name":"macd"},
 "mark":{"type":"line","color":"#17b6f2","strokeWidth":2,"clip":true},
 "encoding":{
  "x":{"field":"i","type":"quantitative","scale":{"domain":[-0.125,466.625],"nice":false,"zero":false,"padding":0},
       "axis":{"orient":"bottom","title":null,"zindex":2,"tickCount":40,"labelPadding":0.5,"values":[0,16,32,48,64,80,96,112,128,144,160,176,192,208,224,240,256,272,288,304,320,336,352],
       "labelExpr":"['8 Apr 2020','9 Apr 05:00','9 Apr 21:00','10 Apr 13:00','13 Apr 05:00','13 Apr 21:00','14 Apr 13:00','15 Apr 05:00','15 Apr 21:00','16 Apr 13:00','17 Apr 05:00','17 Apr 21:00','20 Apr 13:00','21 Apr 05:00','21 Apr 21:00','22 Apr 13:00','23 Apr 05:00','23 Apr 21:00','24 Apr 13:00','27 Apr 05:00','27 Apr 21:00','28 Apr 13:00','29 Apr 05:00'][round(datum.value/16)]",
       "labelAlign":"left","labelOffset":-1.5,"labelOverlap":false,"labelFlush":false,"labelBound":false}},
  "y":{"field":"v","type":"quantitative","scale":{"domain":[-19.8587,14.8687],"nice":false,"zero":false,"padding":0},
       "axis":{"orient":"right","title":null,"zindex":2,"tickCount":10,"labelPadding":1.5,"labelFontSize":9,"values":[14.8687,10,0,-10,-19.8587],
       "labelExpr":"datum.value == 0 ? '0.00' : (abs(datum.value) == 10 ? format(datum.value, 'd') : format(datum.value, '.4f'))",
       "labelFlush":true,"labelOverlap":false}}}},
{"data":{"values":[{}]},
 "mark":{"type":"text","align":"left","baseline":"middle","fontSize":9.5,"color":"#000000"},
 "encoding":{"x":{"datum":1.025},"y":{"datum":13.59},"text":{"value":"Stochastic MACD (12,26,9,45) -14.3761 -11.2767"}}}
]
}
]
}
